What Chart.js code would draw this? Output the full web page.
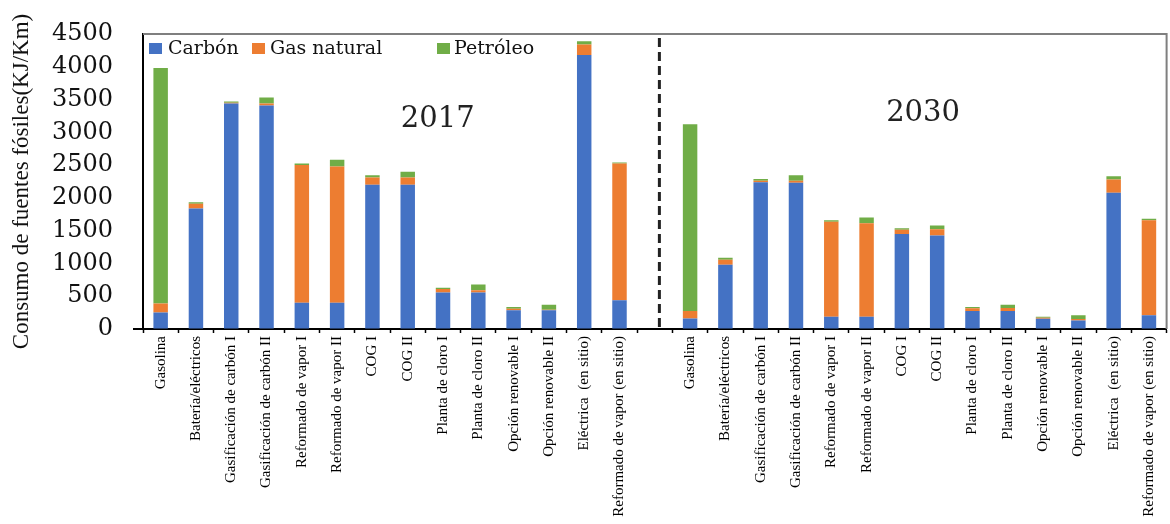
<!DOCTYPE html>
<html>
<head>
<meta charset="utf-8">
<script src="https://cdn.jsdelivr.net/npm/chart.js@4"></script>
<style>
  html, body { margin: 0; padding: 0; background: #fff; }
</style>
</head>
<body>
<canvas id="c" width="1170" height="524"></canvas>
<script>
// Pathways, 2017 block, an empty separator slot, then the 2030 block
const categories = [
  'Gasolina', 'Batería/eléctricos', 'Gasificación de carbón I', 'Gasificación de carbón II',
  'Reformado de vapor I', 'Reformado de vapor II', 'COG I', 'COG II',
  'Planta de cloro I', 'Planta de cloro II', 'Opción renovable I', 'Opción renovable II',
  'Eléctrica  (en sitio)', 'Reformado de vapor (en sitio)',
  '',
  'Gasolina', 'Batería/eléctricos', 'Gasificación de carbón I', 'Gasificación de carbón II',
  'Reformado de vapor I', 'Reformado de vapor II', 'COG I', 'COG II',
  'Planta de cloro I', 'Planta de cloro II', 'Opción renovable I', 'Opción renovable II',
  'Eléctrica  (en sitio)', 'Reformado de vapor (en sitio)'
];

// Fossil energy use by source (KJ/Km)
const carbon = [250, 1840, 3440, 3410, 400, 400, 2200, 2200, 555, 555, 285, 285, 4180, 440,
                null,
                160, 980, 2240, 2230, 185, 185, 1450, 1425, 275, 275, 157, 130, 2080, 210];
const naturalGas = [140, 70, 10, 30, 2100, 2080, 110, 110, 55, 35, 25, 10, 160, 2085,
                    null,
                    115, 75, 20, 30, 1450, 1430, 65, 95, 40, 45, 15, 22, 200, 1450];
const oil = [3590, 25, 20, 90, 25, 100, 35, 90, 20, 90, 25, 75, 50, 15,
             null,
             2850, 30, 30, 85, 25, 85, 20, 60, 20, 50, 15, 56, 50, 20];

const seriesNames = ['Carbón', 'Gas natural', 'Petróleo'];
const seriesColors = ['#4472C4', '#ED7D31', '#70AD47'];
const yearLabels = ['2017', '2030'];

// Frame, separator, year captions and legend drawn on top of the bars
const decorations = {
  id: 'decorations',
  afterDraw(chart) {
    const { ctx, chartArea: a, scales: { x, y } } = chart;
    ctx.save();

    // light frame on top and right
    ctx.strokeStyle = '#7f7f7f';
    ctx.lineWidth = 2;
    ctx.beginPath();
    ctx.moveTo(a.left, a.top);
    ctx.lineTo(a.right, a.top);
    ctx.lineTo(a.right, a.bottom);
    ctx.stroke();

    // short stub of the baseline left of the value axis
    ctx.strokeStyle = '#000';
    ctx.lineWidth = 2;
    ctx.beginPath();
    ctx.moveTo(a.left - 10, a.bottom);
    ctx.lineTo(a.left, a.bottom);
    ctx.stroke();

    // dashed separator between the two years
    const sep = x.getPixelForValue(14.13);
    ctx.setLineDash([9, 5]);
    ctx.lineWidth = 3;
    ctx.strokeStyle = '#222';
    ctx.beginPath();
    ctx.moveTo(sep, a.top + 4);
    ctx.lineTo(sep, a.bottom);
    ctx.stroke();
    ctx.setLineDash([]);

    // year captions
    ctx.fillStyle = '#222';
    ctx.font = '29px "DejaVu Serif"';
    ctx.textAlign = 'center';
    ctx.textBaseline = 'middle';
    ctx.fillText(yearLabels[0], x.getPixelForValue(7.85), y.getPixelForValue(3200));
    ctx.fillText(yearLabels[1], x.getPixelForValue(21.6), y.getPixelForValue(3290));

    // legend
    const boxOffsets = [6, 109, 294];
    const textGaps = [19, 18, 17];
    ctx.font = '19px "DejaVu Serif"';
    ctx.textAlign = 'left';
    chart.data.datasets.forEach((ds, i) => {
      const bx = a.left + boxOffsets[i];
      ctx.fillStyle = ds.backgroundColor;
      ctx.fillRect(bx, a.top + 9, 13, 11);
      ctx.fillStyle = '#111';
      ctx.fillText(ds.label, bx + textGaps[i], a.top + 15);
    });

    ctx.restore();
  }
};

new Chart(document.getElementById('c'), {
  type: 'bar',
  data: {
    labels: categories,
    datasets: [
      { label: seriesNames[0], data: carbon, backgroundColor: seriesColors[0] },
      { label: seriesNames[1], data: naturalGas, backgroundColor: seriesColors[1] },
      { label: seriesNames[2], data: oil, backgroundColor: seriesColors[2] }
    ]
  },
  options: {
    responsive: false,
    animation: false,
    barPercentage: 0.41,
    categoryPercentage: 1,
    layout: { padding: { left: 8, right: 3, top: 34, bottom: 0 } },
    plugins: {
      legend: { display: false },
      tooltip: { enabled: false }
    },
    scales: {
      x: {
        stacked: true,
        offset: true,
        grid: { display: true, drawOnChartArea: false, offset: true, tickLength: 4, color: '#000', tickWidth: 1.5 },
        border: { color: '#000', width: 2 },
        ticks: {
          autoSkip: false, maxRotation: 90, minRotation: 90, padding: 3, color: '#000',
          font: { family: '"Liberation Serif"', size: 15 }
        },
        afterFit(scale) { scale.height = 195; }
      },
      y: {
        stacked: true,
        min: 0,
        max: 4500,
        grid: { display: true, drawOnChartArea: false, drawTicks: false },
        border: { color: '#000', width: 2 },
        ticks: {
          stepSize: 500, maxTicksLimit: 20, padding: 30, color: '#111',
          font: { family: '"DejaVu Serif"', size: 24, lineHeight: 1 },
          callback: (v) => String(v)
        },
        title: {
          display: true,
          text: 'Consumo de fuentes fósiles(KJ/Km)',
          color: '#111',
          font: { family: '"Liberation Serif"', size: 23 },
          padding: { top: 0, bottom: 0 }
        },
        afterFit(scale) {
          scale.width = 135;
          scale.paddingTop = 0;
          scale.paddingBottom = 0;
        }
      }
    }
  },
  plugins: [decorations]
});
</script>
</body>
</html>
